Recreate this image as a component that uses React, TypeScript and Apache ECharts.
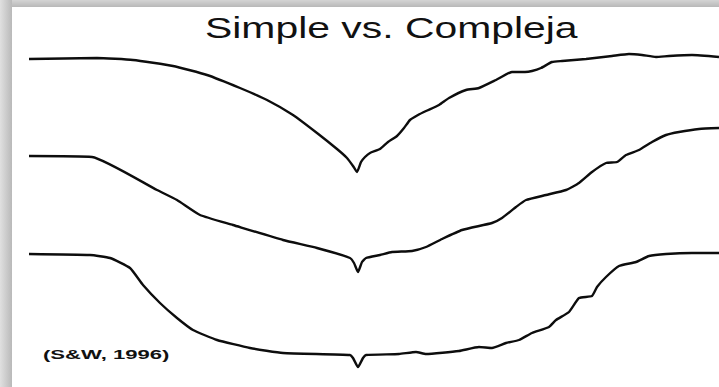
import React, { useEffect, useRef } from "react";
import * as echarts from "echarts";

// Reading of the three traces: [time, amplitude] (arbitrary units)
const traceTop: [number, number][] = [
  [0, 328], [68, 329], [104, 327], [144, 321], [178, 312], [211, 299], [238, 287],
  [264, 272], [288, 254], [308, 238], [318, 229], [324, 221], [328, 215],
  [332, 225], [336, 230], [341, 234], [351, 238], [359, 245], [368, 251],
  [375, 259], [381, 267], [389, 272], [397, 276], [410, 282], [420, 289],
  [437, 297], [450, 299], [467, 307], [483, 315], [496, 315], [503, 316],
  [512, 319], [523, 325], [533, 326], [557, 328], [583, 331], [600, 333],
  [613, 332], [627, 330], [640, 331], [663, 332], [690, 330],
];

const traceMiddle: [number, number][] = [
  [0, 231], [63, 230], [128, 197], [148, 187], [171, 172], [204, 162], [254, 147],
  [288, 139], [321, 129], [325, 124], [329, 115], [333, 125], [337, 129],
  [351, 132], [363, 135], [383, 136], [397, 140], [413, 148], [433, 157],
  [463, 164], [473, 169], [487, 180], [497, 187], [517, 192], [537, 197],
  [550, 204], [563, 215], [577, 224], [588, 225], [597, 232], [610, 237],
  [623, 245], [637, 252], [650, 255], [670, 258], [690, 259],
];

const traceBottom: [number, number][] = [
  [0, 133], [61, 132], [81, 129], [101, 119], [114, 102], [131, 84], [148, 69],
  [164, 57], [188, 47], [221, 39], [254, 34], [321, 32], [324, 29], [329, 20],
  [334, 29], [337, 32], [370, 33], [387, 35], [397, 33], [430, 36], [450, 40],
  [463, 39], [477, 44], [490, 47], [503, 54], [520, 60], [527, 67], [540, 75],
  [550, 89], [563, 91], [568, 100], [577, 110], [590, 121], [607, 125],
  [620, 131], [637, 133], [663, 134], [690, 134],
];

const titleText = "Simple vs. Compleja";
const sourceText = "(S&W, 1996)";

export default function App() {
  const ref = useRef<HTMLDivElement>(null);

  useEffect(() => {
    if (!ref.current) return;
    const chart = echarts.init(ref.current, undefined, { renderer: "svg" });
    const lineStyle = { color: "#0d0d0d", width: 2.4 };
    const mkSeries = (name: string, data: [number, number][]) => ({
      name,
      type: "line",
      data,
      showSymbol: false,
      symbol: "none",
      smooth: 0.15,
      lineStyle,
      silent: true,
    });
    chart.setOption({
      animation: false,
      backgroundColor: "#ffffff",
      grid: { left: 29, right: 0, top: 0, bottom: 0 },
      xAxis: { type: "value", min: 0, max: 690, show: false },
      yAxis: { type: "value", min: 0, max: 387, show: false },
      series: [
        mkSeries("Simple", traceTop),
        mkSeries("Intermedia", traceMiddle),
        mkSeries("Compleja", traceBottom),
      ],
      graphic: [
        {
          type: "rect",
          left: 0,
          top: 0,
          shape: { width: 719, height: 7 },
          style: {
            fill: new echarts.graphic.LinearGradient(0, 0, 0, 1, [
              { offset: 0, color: "#d4d4d4" },
              { offset: 1, color: "#b8b8b8" },
            ]),
          },
          silent: true,
        },
        {
          type: "rect",
          left: 0,
          top: 0,
          shape: { width: 12, height: 387 },
          style: {
            fill: new echarts.graphic.LinearGradient(0, 0, 1, 0, [
              { offset: 0, color: "#e0e0e0" },
              { offset: 1, color: "#b9b9b9" },
            ]),
          },
          silent: true,
        },
        {
          type: "text",
          x: 205,
          y: 28,
          scaleX: 1.41,
          style: {
            text: titleText,
            fill: "#111",
            font: "29px 'Liberation Sans', Arial, sans-serif",
            align: "left",
            verticalAlign: "middle",
          },
          silent: true,
        },
        {
          type: "text",
          x: 43,
          y: 355,
          scaleX: 1.7,
          style: {
            text: sourceText,
            fill: "#111",
            font: "bold 13px 'Liberation Sans', Arial, sans-serif",
            align: "left",
            verticalAlign: "middle",
          },
          silent: true,
        },
      ],
    });
    return () => chart.dispose();
  }, []);

  return (
    <div
      ref={ref}
      style={{ position: "absolute", left: 0, top: 0, width: 719, height: 387, background: "#fff" }}
    />
  );
}
